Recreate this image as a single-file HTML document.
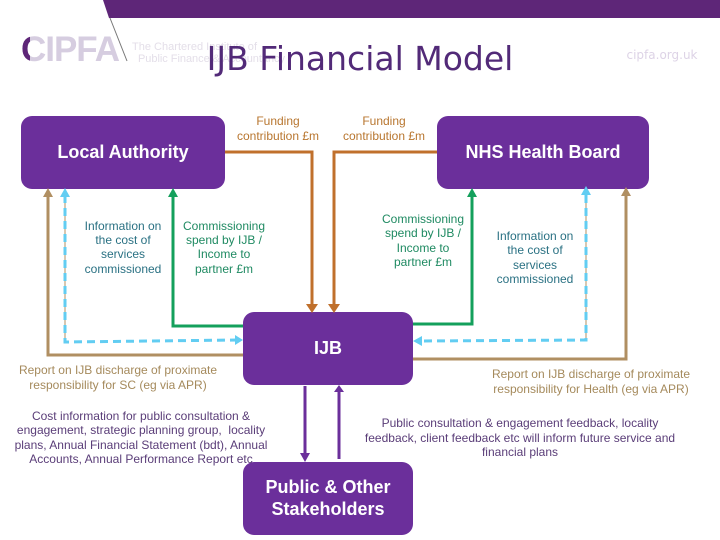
<!DOCTYPE html>
<html><head><meta charset="utf-8"><style>
html,body{margin:0;padding:0;background:#fff;width:720px;height:540px;overflow:hidden}
svg{display:block}
text{font-family:"Liberation Sans",sans-serif;font-size:12px;text-anchor:middle}
.b{fill:#fff;font-weight:bold;font-size:18px}
.o{fill:#b8762f}.t{fill:#2a7183}.g{fill:#1f8a62}.k{fill:#a58a5c}.p{fill:#5a3d78}
</style></head><body>
<svg width="720" height="540" viewBox="0 0 720 540">
<defs><clipPath id="c"><rect x="0" y="25" width="30" height="45"/></clipPath></defs>
<polygon points="103,0 720,0 720,18 109,18" fill="#5e2678"/>
<line x1="110" y1="18" x2="127" y2="61" stroke="#777" stroke-width="1"/>
<text x="70" y="61" style="font-size:35px;font-weight:bold;letter-spacing:-1px" fill="#d6cde0">CIPFA</text>
<text x="70" y="61" clip-path="url(#c)" style="font-size:35px;font-weight:bold;letter-spacing:-1px" fill="#5e2678">CIPFA</text>
<text x="132" y="50" textLength="125" style="font-size:11px;text-anchor:start" fill="#e4dfe9">The Chartered Institute of</text>
<text x="138" y="62" textLength="147" style="font-size:11px;text-anchor:start" fill="#e4dfe9">Public Finance &amp; Accountancy</text>
<text x="360" y="70" style="font-family:'DejaVu Sans',sans-serif;font-size:33px" fill="#522a78">IJB Financial Model</text>
<text x="662" y="59" style="font-family:'DejaVu Sans',sans-serif;font-size:12px" fill="#ddd3e6">cipfa.org.uk</text>

<g fill="#6b2f9b">
<rect x="21" y="116" width="204" height="73" rx="11"/>
<rect x="437" y="116" width="212" height="73" rx="11"/>
<rect x="243" y="312" width="170" height="73" rx="11"/>
<rect x="243" y="462" width="170" height="73" rx="11"/>
</g>

<g fill="none" stroke-width="3">
<path d="M225 152H312V305" stroke="#c0702c"/>
<path d="M437 152H334V305" stroke="#c0702c"/>
<path d="M173 195V326H243" stroke="#14a05c"/>
<path d="M472 195V324H413" stroke="#14a05c"/>
<path d="M48 195V355H243" stroke="#b08f62"/>
<path d="M626 195V359H413" stroke="#b08f62"/>
<path d="M65 195V342" stroke="#b08f62" stroke-width="1"/>
<path d="M586 195V340" stroke="#b08f62" stroke-width="1"/>
<path d="M65 195V342L237 340" stroke="#62cdf2" stroke-dasharray="8 5"/>
<path d="M586 195V340L420 341" stroke="#62cdf2" stroke-dasharray="8 5"/>
<path d="M305 386V455" stroke="#6b2f9b"/>
<path d="M339 392V459" stroke="#6b2f9b"/>
</g>
<polygon points="306,304 318,304 312,313" fill="#c0702c"/>
<polygon points="328,304 340,304 334,313" fill="#c0702c"/>
<polygon points="173,188 178,197 168,197" fill="#14a05c"/>
<polygon points="472,188 477,197 467,197" fill="#14a05c"/>
<polygon points="48,188 53,197 43,197" fill="#b08f62"/>
<polygon points="626,187 631,196 621,196" fill="#b08f62"/>
<polygon points="65,188 70,197 60,197" fill="#62cdf2"/>
<polygon points="586,186 591,195 581,195" fill="#62cdf2"/>
<polygon points="243,340 235,335 235,345" fill="#62cdf2"/>
<polygon points="413,341 422,336 422,346" fill="#62cdf2"/>
<polygon points="305,462 300,453 310,453" fill="#6b2f9b"/>
<polygon points="339,385 334,392 344,392" fill="#6b2f9b"/>

<text class="b" x="123" y="158">Local Authority</text>
<text class="b" x="543" y="158">NHS Health Board</text>
<text class="b" x="328" y="354">IJB</text>
<text class="b" x="328" y="493">Public &amp; Other</text>
<text class="b" x="328" y="515">Stakeholders</text>

<g class="o"><text x="278" y="125">Funding</text><text x="278" y="140">contribution £m</text>
<text x="384" y="125">Funding</text><text x="384" y="140">contribution £m</text></g>
<g class="t"><text x="123" y="230">Information on</text><text x="123" y="244">the cost of</text><text x="123" y="258">services</text><text x="123" y="273">commissioned</text>
<text x="535" y="240">Information on</text><text x="535" y="254">the cost of</text><text x="535" y="269">services</text><text x="535" y="283">commissioned</text></g>
<g class="g"><text x="224" y="230">Commissioning</text><text x="224" y="244">spend by IJB /</text><text x="224" y="258">Income to</text><text x="224" y="273">partner £m</text>
<text x="423" y="223">Commissioning</text><text x="423" y="237">spend by IJB /</text><text x="423" y="252">Income to</text><text x="423" y="266">partner £m</text></g>
<g class="k"><text x="118" y="374">Report on IJB discharge of proximate</text><text x="118" y="389">responsibility for SC (eg via APR)</text>
<text x="591" y="378">Report on IJB discharge of proximate</text><text x="591" y="393">responsibility for Health (eg via APR)</text></g>
<g class="p"><text x="141" y="420">Cost information for public consultation &amp;</text><text x="141" y="434">engagement, strategic planning group,&#160; locality</text><text x="141" y="449">plans, Annual Financial Statement (bdt), Annual</text><text x="141" y="463">Accounts, Annual Performance Report etc</text>
<text x="520" y="427">Public consultation &amp; engagement feedback, locality</text><text x="520" y="442">feedback, client feedback etc will inform future service and</text><text x="520" y="456">financial plans</text></g>
</svg>
</body></html>
